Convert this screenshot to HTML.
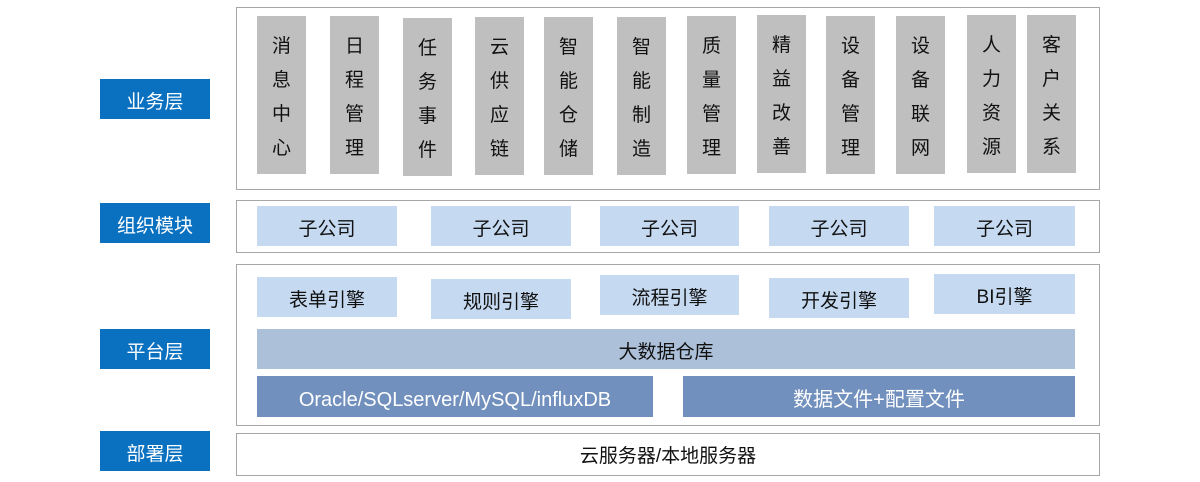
<!DOCTYPE html>
<html><head><meta charset="utf-8"><style>
body{margin:0;width:1200px;height:482px;background:#fff;position:relative;font-family:"Liberation Sans","Noto Sans CJK SC",sans-serif;overflow:hidden}
div{position:absolute;box-sizing:border-box}
.lab{left:100px;width:110px;height:40px;background:#0a70c0;color:#fff;font-size:19px;line-height:40px;padding-top:4px;text-align:center}
.out{left:236px;width:864px;border:1px solid #a6a6a6;background:#fff}
.col{width:49px;background:#bfbfbf;color:#111;font-size:19px;line-height:34px;text-align:center;padding-top:14px}
.b{background:#c5d9f1;color:#111;font-size:19px;text-align:center;height:40px;line-height:40px;padding-top:4px}
</style></head><body>
<div class="lab" style="top:79px">业务层</div>
<div class="lab" style="top:203px">组织模块</div>
<div class="lab" style="top:329px">平台层</div>
<div class="lab" style="top:431px">部署层</div>
<div class="out" style="top:7px;height:183px"></div>
<div class="out" style="top:200px;height:53px"></div>
<div class="out" style="top:264px;height:162px"></div>
<div class="out" style="top:433px;height:43px;font-size:19px;text-align:center;line-height:41px;padding-top:2px;color:#111">云服务器/本地服务器</div>
<div class="col" style="left:257px;top:16px;height:158px">消<br>息<br>中<br>心</div>
<div class="col" style="left:330px;top:16px;height:158px">日<br>程<br>管<br>理</div>
<div class="col" style="left:403px;top:18px;height:158px">任<br>务<br>事<br>件</div>
<div class="col" style="left:475px;top:17px;height:158px">云<br>供<br>应<br>链</div>
<div class="col" style="left:544px;top:17px;height:158px">智<br>能<br>仓<br>储</div>
<div class="col" style="left:617px;top:17px;height:158px">智<br>能<br>制<br>造</div>
<div class="col" style="left:687px;top:16px;height:158px">质<br>量<br>管<br>理</div>
<div class="col" style="left:757px;top:15px;height:158px">精<br>益<br>改<br>善</div>
<div class="col" style="left:826px;top:16px;height:158px">设<br>备<br>管<br>理</div>
<div class="col" style="left:896px;top:16px;height:158px">设<br>备<br>联<br>网</div>
<div class="col" style="left:967px;top:15px;height:158px">人<br>力<br>资<br>源</div>
<div class="col" style="left:1027px;top:15px;height:158px">客<br>户<br>关<br>系</div>
<div class="b" style="left:257px;top:206px;width:140px">子公司</div>
<div class="b" style="left:431px;top:206px;width:140px">子公司</div>
<div class="b" style="left:600px;top:206px;width:139px">子公司</div>
<div class="b" style="left:769px;top:206px;width:140px">子公司</div>
<div class="b" style="left:934px;top:206px;width:141px">子公司</div>
<div class="b" style="left:257px;top:277px;width:140px">表单引擎</div>
<div class="b" style="left:431px;top:279px;width:140px">规则引擎</div>
<div class="b" style="left:600px;top:275px;width:139px">流程引擎</div>
<div class="b" style="left:769px;top:278px;width:140px">开发引擎</div>
<div class="b" style="left:934px;top:274px;width:141px">BI引擎</div>
<div class="b" style="left:257px;top:329px;width:818px;background:#adc0d9">大数据仓库</div>
<div class="b" style="left:257px;top:376px;width:396px;height:41px;background:#7190bd;color:#fff;font-size:20px">Oracle/SQLserver/MySQL/influxDB</div>
<div class="b" style="left:683px;top:376px;width:392px;height:41px;background:#7190bd;color:#fff;font-size:20px">数据文件+配置文件</div>
</body></html>
